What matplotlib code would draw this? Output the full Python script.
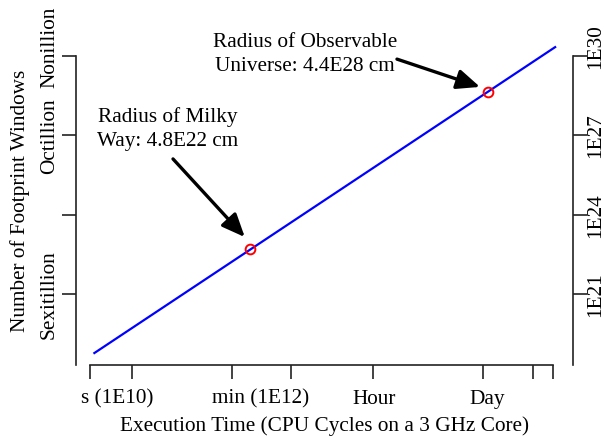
import matplotlib
matplotlib.use('Agg')
import matplotlib.pyplot as plt
from matplotlib.ticker import FixedLocator, FixedFormatter, NullFormatter

plt.rcParams['font.family'] = ['Liberation Serif', 'DejaVu Serif']

# ---------------- data ----------------
line_cycles = [3.4e9, 2.07e15]
line_windows = [5.9e18, 2.1e30]

point_cycles = [3.1e11, 2.97e14]
point_windows = [4.8e22, 4.4e28]
point_labels = ['Radius of Milky\nWay: 4.8E22 cm',
                'Radius of Observable\nUniverse: 4.4E28 cm']

x_tick_marks = [3e9, 1e10, 1.8e11, 1e12, 1.08e13, 2.592e14, 1.1e15, 1.96e15]
x_label_pos = [6.5e9, 4.1e11, 1.1e13, 2.9e14]
x_label_text = ['s (1E10)', 'min (1E12)', 'Hour', 'Day']

y_tick_marks = [1e21, 1e24, 1e27, 1e30]
y_left_label_pos = [1e21, 1e27, 2.3e30]
y_left_label_text = ['Sexitillion', 'Octillion', 'Nonillion']
y_right_label_pos = [1e21, 1e24, 1e27, 2.3e30]
y_right_label_text = ['1E21', '1E24', '1E27', '1E30']

# ---------------- figure ----------------
FS = 15.3
fig = plt.figure(figsize=(6.04, 4.39), dpi=100)
ax = fig.add_axes([75.7 / 604, 1 - 366 / 439, (572.5 - 75.7) / 604, (366 - 36) / 439])

ax.plot(line_cycles, line_windows, color='#0000ff', lw=1.6, zorder=2)
ax.plot(point_cycles, point_windows, linestyle='none', marker='o', ms=7,
        mfc='none', mec='#ff0000', mew=1.4, zorder=3)

ax.set_xscale('log')
ax.set_yscale('log')
xlim = (10 ** 9.297, 10 ** 15.534)
ylim = (10 ** 18.319, 10 ** 30.78)
ax.set_xlim(*xlim)
ax.set_ylim(*ylim)

# x axis: marks as minor ticks, labels as zero-length major ticks
ax.xaxis.remove_overlapping_locs = False
ax.xaxis.set_major_locator(FixedLocator(x_label_pos))
ax.xaxis.set_major_formatter(FixedFormatter(x_label_text))
ax.xaxis.set_minor_locator(FixedLocator(x_tick_marks))
ax.xaxis.set_minor_formatter(NullFormatter())
ax.tick_params(axis='x', which='major', length=0, pad=17, labelsize=FS)
ax.tick_params(axis='x', which='minor', length=10, width=1.2, direction='out')

# left y axis
ax.yaxis.remove_overlapping_locs = False
ax.yaxis.set_major_locator(FixedLocator(y_left_label_pos))
ax.yaxis.set_major_formatter(FixedFormatter(y_left_label_text))
ax.yaxis.set_minor_locator(FixedLocator(y_tick_marks))
ax.yaxis.set_minor_formatter(NullFormatter())
ax.tick_params(axis='y', which='major', length=0, pad=12, labelsize=FS)
ax.tick_params(axis='y', which='minor', length=10, width=1.2, direction='out')
for lab in ax.get_yticklabels():
    lab.set_rotation(90)
    lab.set_va('center')

# right y axis
ax2 = ax.twinx()
ax2.set_yscale('log')
ax2.set_ylim(*ylim)
ax2.yaxis.remove_overlapping_locs = False
ax2.yaxis.set_major_locator(FixedLocator(y_right_label_pos))
ax2.yaxis.set_major_formatter(FixedFormatter(y_right_label_text))
ax2.yaxis.set_minor_locator(FixedLocator(y_tick_marks))
ax2.yaxis.set_minor_formatter(NullFormatter())
ax2.tick_params(axis='y', which='major', length=0, pad=10, labelsize=FS)
ax2.tick_params(axis='y', which='minor', length=10, width=1.2, direction='out')
for lab in ax2.get_yticklabels():
    lab.set_rotation(90)
    lab.set_va('center')

for a in (ax, ax2):
    a.spines['top'].set_visible(False)
ax.spines['right'].set_visible(False)
ax2.spines['left'].set_visible(False)
ax2.spines['bottom'].set_visible(False)
for sp in (ax.spines['left'], ax.spines['bottom'], ax2.spines['right']):
    sp.set_linewidth(1.2)
    sp.set_color('#222222')
ax.spines['left'].set_bounds(ylim[0], 1e30)
ax2.spines['right'].set_bounds(ylim[0], 1e30)
ax.spines['bottom'].set_bounds(x_tick_marks[0], x_tick_marks[-1])
ax.tick_params(which='both', color='#222222')
ax2.tick_params(which='both', color='#222222')

ax.set_xlabel('Execution Time (CPU Cycles on a 3 GHz Core)', fontsize=FS, labelpad=5)
ax.set_ylabel('Number of Footprint Windows', fontsize=FS, labelpad=7)

# annotations
ax.text(2.86e10, 1.86e27, point_labels[0], ha='center', va='center',
        fontsize=FS, linespacing=1.35, zorder=4)
ax.text(1.5e12, 1.16e30, point_labels[1], ha='center', va='center',
        fontsize=FS, linespacing=1.35, zorder=4)
arrow_kw = dict(arrowstyle='-|>,head_length=0.7,head_width=0.3',
                color='black', lw=2.4, mutation_scale=20, shrinkA=0, shrinkB=0)
ax.annotate('', xy=(2.63e11, 1.41e23), xytext=(3.3e10, 1.26e26), arrowprops=arrow_kw)
ax.annotate('', xy=(2.36e14, 6.6e28), xytext=(2.14e13, 7.4e29), arrowprops=arrow_kw)

fig.savefig('out.png', dpi=100)
